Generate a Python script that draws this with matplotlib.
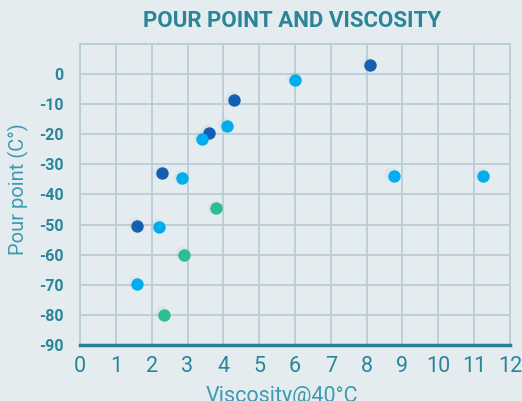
import matplotlib
matplotlib.use("Agg")
import matplotlib.pyplot as plt

# Data
dark_x = [8.1, 4.3, 3.6, 2.3, 1.6]
dark_y = [3, -8.5, -19.5, -33, -50.3]
light_x = [6.0, 4.1, 3.4, 2.85, 2.2, 1.6, 8.75, 11.25]
light_y = [-2, -17.2, -21.4, -34.6, -50.7, -69.8, -33.8, -33.8]
green_x = [3.8, 2.9, 2.35]
green_y = [-44.6, -60, -80]

xticks = list(range(0, 13))
yticks = list(range(-90, 1, 10))

plt.rcParams['font.family'] = ['Roboto', 'DejaVu Sans']

bg = '#e4ecf0'
teal = '#2a8599'
grid_c = '#b9cdd7'

fig = plt.figure(figsize=(5.22, 4.01), dpi=100, facecolor=bg)
ax = fig.add_axes([80/522, 56/401, 430/522, 301/401], facecolor=bg)

for xs, ys, c in [(dark_x, dark_y, '#1460b0'), (light_x, light_y, '#00aeef'), (green_x, green_y, '#2dbd90')]:
    ax.scatter([x - 0.06 for x in xs], [y + 0.5 for y in ys], s=100, color='#9aa6ad', alpha=0.1, linewidths=0, zorder=2)
    ax.scatter(xs, ys, s=80, color=c, linewidths=0, zorder=3)

ax.set_xlim(0, 12)
ax.set_ylim(-90, 10)
ax.set_xticks(xticks)
ax.set_yticks(yticks + [10])
ax.set_yticklabels([str(v) for v in yticks] + [''])
ax.grid(True, color=grid_c, linewidth=1.3, zorder=0)
ax.set_axisbelow(True)
for s in ['top', 'right', 'left']:
    ax.spines[s].set_color(grid_c)
    ax.spines[s].set_linewidth(1.3)
ax.spines['bottom'].set_color('#2a7f95')
ax.spines['bottom'].set_linewidth(2.5)
ax.tick_params(axis='both', length=0)
ax.tick_params(axis='x', labelsize=15.5, labelcolor=teal, pad=8)
ax.tick_params(axis='y', labelsize=11.5, labelcolor=teal, pad=12)
for lab in ax.get_yticklabels():
    lab.set_fontweight('bold')

ax.set_xlabel('Viscosity@40°C', fontsize=15.5, color='#3e9bb0', labelpad=5)
ax.xaxis.set_label_coords(0.47, -0.135)
ax.xaxis.label.set_va('top')
ax.set_ylabel('Pour point (C°)', fontsize=14.5, color='#3e9bb0')
ax.yaxis.set_label_coords(-0.119, 0.517)

fig.text(292/522, 1 - 21/401, 'POUR POINT AND VISCOSITY', ha='center', va='center',
         fontsize=16, fontweight='bold', color='#2a8599')

fig.savefig('out.png', dpi=100, facecolor=bg)
